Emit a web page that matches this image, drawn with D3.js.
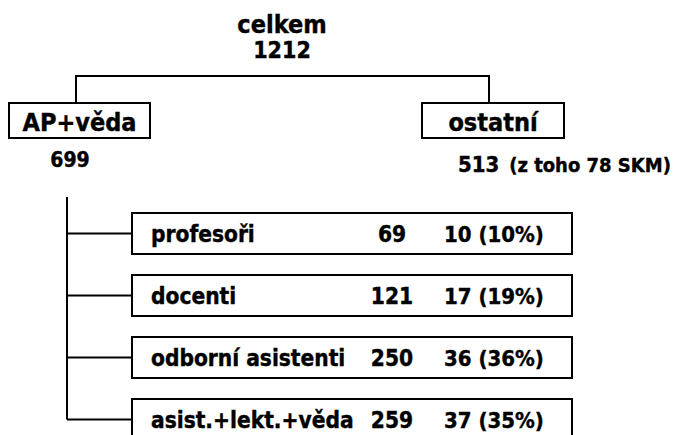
<!DOCTYPE html>
<html>
<head>
<meta charset="utf-8">
<script src="https://cdn.jsdelivr.net/npm/d3@7"></script>
<style>
  body { margin: 0; background: #fff; }
  text { font-family: "DejaVu Sans Condensed", "DejaVu Sans", sans-serif; font-weight: bold; fill: #000; stroke: #000; stroke-width: 0.4px; }
</style>
</head>
<body>
<div class="chart"></div>
<script>
// data
var totalLabel = "celkem";
var total = 1212;
var groups = ["AP+věda", "ostatní"];
var groupCounts = [699, 513];
var skmCount = 78;
var categories = ["profesoři", "docenti", "odborní asistenti", "asist.+lekt.+věda"];
var counts = [69, 121, 250, 259];
var subCounts = [10, 17, 36, 37];
var subShares = [10, 19, 36, 35];

var svgWidth = 675;
var svgHeight = 435;

var svg = d3.select(".chart")
  .append("svg")
  .attr("width", svgWidth)
  .attr("height", svgHeight);

// top node
var topX = 282;
svg.append("text")
  .attr("x", topX).attr("y", 33)
  .attr("text-anchor", "middle")
  .style("font-size", "25px")
  .text(totalLabel);
svg.append("text")
  .attr("x", topX).attr("y", 58)
  .attr("text-anchor", "middle")
  .style("font-size", "23px")
  .text(total);

// group level
var groupX = d3.scalePoint().domain(groups).range([76, 489]);
var groupBoxes = [[9, 150], [422, 564]];

svg.append("path")
  .attr("d", "M" + groupX(groups[0]) + ",103V76H" + groupX(groups[1]) + "V103")
  .attr("fill", "none")
  .attr("stroke", "#000")
  .attr("stroke-width", 2);

groups.forEach(function(g, i) {
  var b = groupBoxes[i];
  svg.append("rect")
    .attr("x", b[0]).attr("y", 103)
    .attr("width", b[1] - b[0]).attr("height", 35)
    .attr("fill", "#fff")
    .attr("stroke", "#000")
    .attr("stroke-width", 2);
  svg.append("text")
    .attr("x", (b[0] + b[1]) / 2).attr("y", 131)
    .attr("text-anchor", "middle")
    .style("font-size", "25px")
    .text(g);
});

svg.append("text")
  .attr("x", 70).attr("y", 167)
  .attr("text-anchor", "middle")
  .style("font-size", "21px")
  .text(groupCounts[0]);

var other = svg.append("text")
  .attr("x", 458).attr("y", 172)
  .style("font-size", "22px");
other.append("tspan").text(groupCounts[1] + " ");
other.append("tspan")
  .attr("dx", 3)
  .style("font-size", "20px")
  .text("(z toho " + skmCount + " SKM)");

// category rows
var y = d3.scaleBand()
  .domain(categories)
  .range([213, 440])
  .paddingInner(21 / 62)
  .paddingOuter(0);

var trunkX = 67;
var boxLeft = 132;
var boxRight = 572;

svg.append("line")
  .attr("x1", trunkX).attr("x2", trunkX)
  .attr("y1", 197)
  .attr("y2", y(categories[categories.length - 1]) + y.bandwidth() / 2)
  .attr("stroke", "#000")
  .attr("stroke-width", 2);

var rows = svg.selectAll(".row")
  .data(categories)
  .enter()
  .append("g")
  .attr("class", "row")
  .attr("transform", function(d) { return "translate(0," + y(d) + ")"; });

rows.append("line")
  .attr("x1", trunkX).attr("x2", boxLeft)
  .attr("y1", y.bandwidth() / 2).attr("y2", y.bandwidth() / 2)
  .attr("stroke", "#000")
  .attr("stroke-width", 2);

rows.append("rect")
  .attr("x", boxLeft).attr("y", 0)
  .attr("width", boxRight - boxLeft)
  .attr("height", y.bandwidth())
  .attr("fill", "#fff")
  .attr("stroke", "#000")
  .attr("stroke-width", 2);

rows.append("text")
  .attr("x", 151).attr("y", y.bandwidth() / 2 + 8)
  .style("font-size", "22.5px")
  .text(function(d) { return d; });

rows.append("text")
  .attr("x", 392).attr("y", y.bandwidth() / 2 + 8)
  .attr("text-anchor", "middle")
  .style("font-size", "22.5px")
  .text(function(d, i) { return counts[i]; });

rows.append("text")
  .attr("x", 444).attr("y", y.bandwidth() / 2 + 8)
  .style("font-size", "22px")
  .text(function(d, i) { return subCounts[i] + " (" + subShares[i] + "%)"; });
</script>
</body>
</html>
